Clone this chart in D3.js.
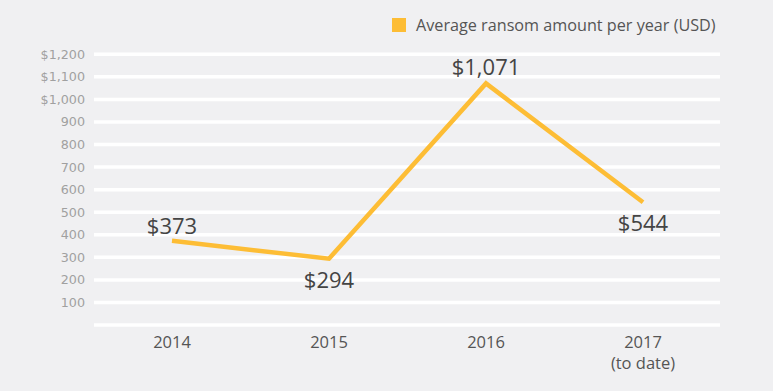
<!DOCTYPE html>
<html><head><meta charset="utf-8">
<script src="https://cdn.jsdelivr.net/npm/d3@7"></script>
<style>
html,body{margin:0;padding:0;background:#f0f0f2;}
svg{display:block;}
</style></head>
<body>
<svg id="chart" width="773" height="391"></svg>
<script>
const categories = ["2014", "2015", "2016", "2017"];
const categorySub = ["", "", "", "(to date)"];
const values = [373, 294, 1071, 544];
const valueLabels = ["$373", "$294", "$1,071", "$544"];
const yTicks = [100, 200, 300, 400, 500, 600, 700, 800, 900, 1000, 1100, 1200];
const yTickLabels = ["100","200","300","400","500","600","700","800","900","$1,000","$1,100","$1,200"];
const seriesName = "Average ransom amount per year (USD)";

const svg = d3.select("#chart");
const W = 773, H = 391;
svg.append("rect").attr("width", W).attr("height", H).attr("fill", "#f0f0f2");

const y = d3.scaleLinear().domain([0, 1200]).range([325, 54.3]);
const x = d3.scalePoint().domain(categories).range([172, 643]);
const gridX0 = 94, gridX1 = 720;

// gridlines (including 0)
svg.append("g").selectAll("line").data([0].concat(yTicks)).join("line")
  .attr("x1", gridX0).attr("x2", gridX1)
  .attr("y1", d => y(d)).attr("y2", d => y(d))
  .attr("stroke", "#ffffff").attr("stroke-width", 3.5);

// y tick labels
svg.append("g").selectAll("text").data(yTicks).join("text")
  .attr("x", 85).attr("y", d => y(d)).attr("dy", "0.35em")
  .attr("text-anchor", "end")
  .attr("font-family", "DejaVu Sans, sans-serif").attr("font-size", 12.7)
  .attr("fill", "#a0a0a0")
  .text((d, i) => yTickLabels[i]);

// x labels
const xl = svg.append("g");
xl.selectAll("text.cat").data(categories).join("text").attr("class","cat")
  .attr("x", d => x(d)).attr("y", 348)
  .attr("text-anchor", "middle")
  .attr("font-family", "Open Sans, sans-serif").attr("font-size", 16.5)
  .attr("fill", "#555").text(d => d);
xl.selectAll("text.sub").data(categories.filter((d,i)=>categorySub[i])).join("text").attr("class","sub")
  .attr("x", d => x(d)).attr("y", 369)
  .attr("text-anchor", "middle")
  .attr("font-family", "Open Sans, sans-serif").attr("font-size", 16.5)
  .attr("fill", "#555").text(d => categorySub[categories.indexOf(d)]);

// line
const data = categories.map((c, i) => ({c, v: values[i], label: valueLabels[i]}));
svg.append("path").datum(data)
  .attr("d", d3.line().x(d => x(d.c)).y(d => y(d.v)))
  .attr("fill", "none").attr("stroke", "#fdbd35").attr("stroke-width", 4.5)
  .attr("stroke-linejoin", "miter");

// value labels
const offsets = [-15, 22, -16, 21];
svg.append("g").selectAll("text").data(data).join("text")
  .attr("x", d => x(d.c)).attr("y", (d, i) => y(d.v) + offsets[i]).attr("dy", "0.35em")
  .attr("text-anchor", "middle")
  .attr("font-family", "Open Sans, sans-serif").attr("font-size", 22)
  .attr("fill", "#444").text(d => d.label);

// legend
svg.append("rect").attr("x", 392).attr("y", 18).attr("width", 14).attr("height", 14).attr("fill", "#fdbd35");
svg.append("text").attr("x", 416).attr("y", 25).attr("dy", "0.35em")
  .attr("font-family", "Open Sans, sans-serif").attr("font-size", 16.2)
  .attr("fill", "#555").text(seriesName);
</script>
</body></html>
